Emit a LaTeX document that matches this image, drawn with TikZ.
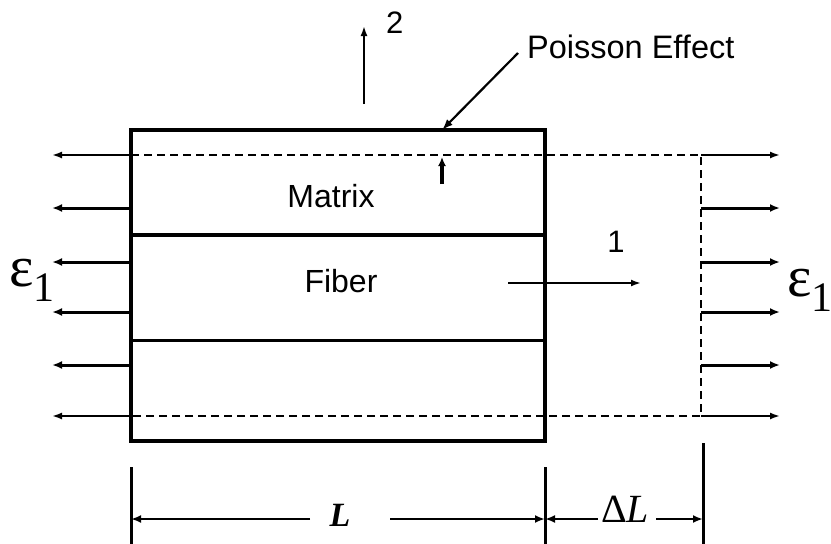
\documentclass[tikz,border=0pt]{standalone}
\usepackage{fontspec}
\setmainfont{Liberation Serif}
\setsansfont{Liberation Sans}
\usetikzlibrary{arrows.meta}
\tikzset{
  solid edge/.style={line width=3.5pt},
  thin arrow/.style={line width=1.8pt,-{Latex[length=10pt,width=7pt]}},
  thick arrow/.style={line width=3pt,-{Latex[length=10pt,width=8pt]}},
  dash edge/.style={line width=1.6pt,dash pattern=on 8pt off 5pt},
  label sans/.style={font=\sffamily\fontsize{32}{32}\selectfont, inner sep=0pt, anchor=base},
  dim arrow/.style={line width=2pt,-{Latex[length=10pt,width=8pt]}},
}
\begin{document}
\begin{tikzpicture}[x=1pt,y=-1pt]
\useasboundingbox (0,0) rectangle (831,544);
% main box corners
\coordinate (tl) at (131,130);
\coordinate (br) at (545,441);
\draw[solid edge] (tl) rectangle (br);
\coordinate (m1) at (131,235); \coordinate (m2) at (545,235);
\coordinate (f1) at (131,340); \coordinate (f2) at (545,340);
\draw[solid edge] (m1) -- (m2);
\draw[line width=3pt] (f1) -- (f2);
% dashed deformed outline
\coordinate (dt1) at (131,155); \coordinate (dt2) at (701,155);
\coordinate (db1) at (131,416); \coordinate (db2) at (701,416);
\draw[dash edge] (dt1) -- (dt2) -- (db2) -- (db1);
% left and right arrows
\coordinate (lt) at (52,155); \coordinate (lb) at (52,416);
\draw[thin arrow] (dt1) -- (lt);
\draw[thin arrow] (db1) -- (lb);
\foreach \yy [count=\i] in {208,262,312,365}{
  \coordinate (ls\i) at (131,\yy); \coordinate (le\i) at (52,\yy);
  \draw[thick arrow] (ls\i) -- (le\i);
  \coordinate (rs\i) at (701,\yy); \coordinate (re\i) at (780,\yy);
  \draw[thick arrow] (rs\i) -- (re\i);
}
\coordinate (rt) at (780,155); \coordinate (rb) at (780,416);
\draw[thin arrow] (dt2) -- (rt);
\draw[thin arrow] (db2) -- (rb);
% labels
\node[label sans] (matrix) at (331,207) {Matrix};
\node[label sans] (fiber) at (341,292) {Fiber};
\node[font=\sffamily\fontsize{31}{31}\selectfont, inner sep=0pt, anchor=base] (one) at (616,252) {1};
\node[font=\sffamily\fontsize{31}{31}\selectfont, inner sep=0pt, anchor=base west] (two) at (386,33) {2};
\node[font=\sffamily\fontsize{32.5}{32.5}\selectfont, inner sep=0pt, anchor=base west] (poisson) at (527,58) {Poisson Effect};
% axis arrows
\coordinate (a1s) at (508,283); \coordinate (a1e) at (641,283);
\draw[line width=2.2pt,-{Latex[length=10pt,width=7pt]}] (a1s) -- (a1e);
\coordinate (a2s) at (364,104); \coordinate (a2e) at (364,26);
\draw[thin arrow] (a2s) -- (a2e);
% poisson pointer
\coordinate (ps) at (518,53); \coordinate (pe) at (442,130);
\draw[line width=2.2pt,-{Latex[length=11pt,width=8pt]}] (ps) -- (pe);
\coordinate (ss) at (442,184); \coordinate (se) at (442,157);
\draw[line width=3.2pt,-{Latex[length=9pt,width=8pt]}] (ss) -- (se);
% epsilons
\node[inner sep=0pt, anchor=base west] (epsL) at (9,286)
  {\fontsize{58}{58}\selectfont ε\raisebox{-15pt}{\fontsize{42}{42}\selectfont 1}};
\node[inner sep=0pt, anchor=base west] (epsR) at (787,296)
  {\fontsize{58}{58}\selectfont ε\raisebox{-15pt}{\fontsize{42}{42}\selectfont 1}};
% dimension lines
\coordinate (t1a) at (131,467); \coordinate (t1b) at (131,544);
\coordinate (t2a) at (545,467); \coordinate (t2b) at (545,544);
\coordinate (t3a) at (703,443); \coordinate (t3b) at (703,544);
\draw[line width=3pt] (t1a) -- (t1b) (t2a) -- (t2b) (t3a) -- (t3b);
\node[font=\bfseries\itshape\fontsize{34}{34}\selectfont, inner sep=0pt] (Ltxt) at (340,515) {L};
\node[font=\fontsize{40}{40}\selectfont, inner sep=0pt] (dLtxt) at (625,509) {Δ\textit{L}};
\coordinate (d1) at (131,519); \coordinate (d2) at (545,519); \coordinate (d3) at (703,519);
\coordinate (g1) at (310,519); \coordinate (g2) at (390,519);
\coordinate (g3) at (598,519); \coordinate (g4) at (656,519);
\draw[dim arrow] (g1) -- (d1);
\draw[dim arrow] (g2) -- (d2);
\draw[dim arrow] (g3) -- (d2);
\draw[dim arrow] (g4) -- (d3);
\end{tikzpicture}
\end{document}
